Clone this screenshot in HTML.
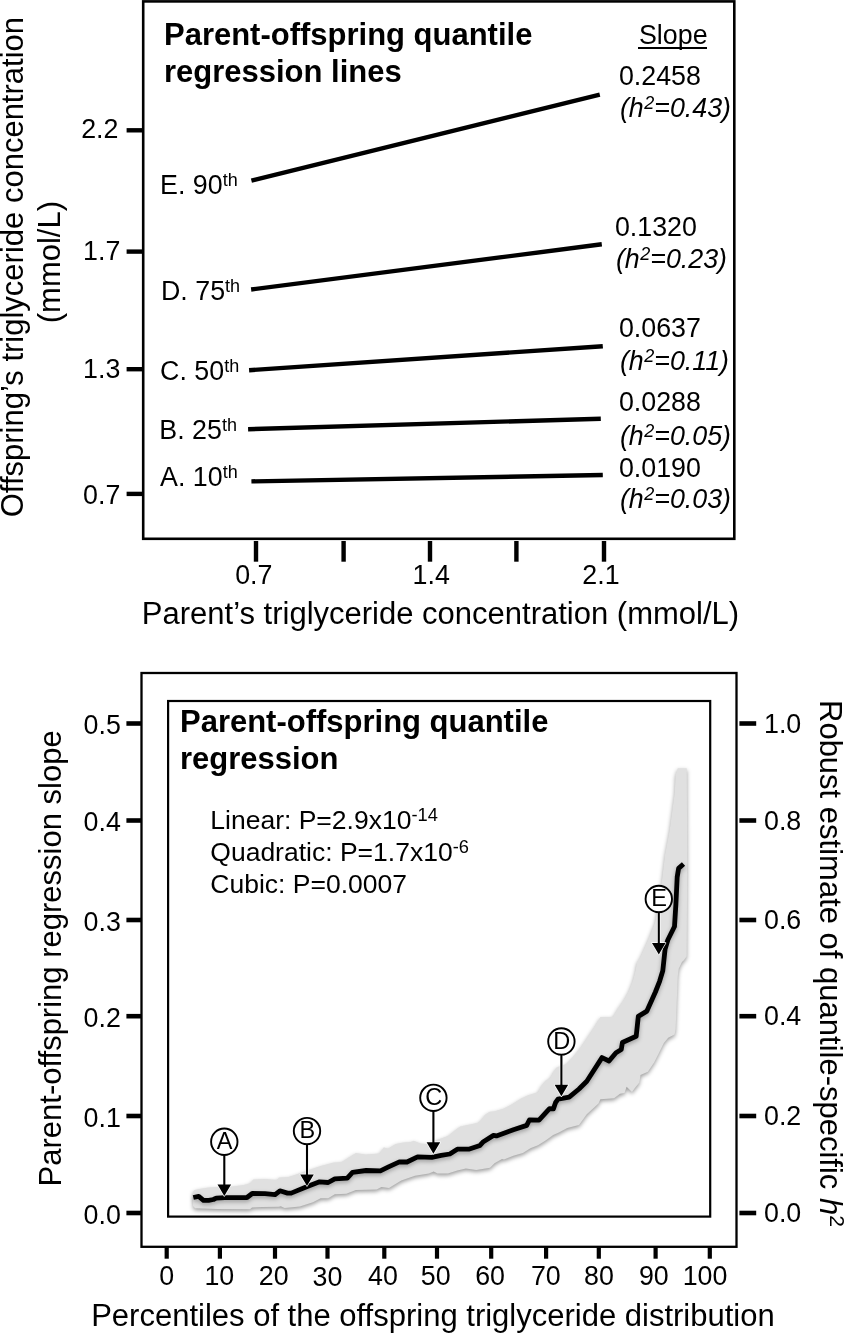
<!DOCTYPE html>
<html><head><meta charset="utf-8"><style>
html,body{margin:0;padding:0;background:#fff;}
svg{display:block;will-change:transform;}
text{font-family:"Liberation Sans", sans-serif;fill:#000;}
</style></head><body>
<svg width="845" height="1334" viewBox="0 0 845 1334">
<rect x="143.2" y="1.4" width="591.1" height="537.4" fill="none" stroke="#000" stroke-width="2.6"/>
<line x1="126.6" y1="130.3" x2="143" y2="130.3" stroke="#000" stroke-width="4.4"/>
<line x1="126.6" y1="251.6" x2="143" y2="251.6" stroke="#000" stroke-width="4.4"/>
<line x1="126.6" y1="369.2" x2="143" y2="369.2" stroke="#000" stroke-width="4.4"/>
<line x1="126.6" y1="493.9" x2="143" y2="493.9" stroke="#000" stroke-width="4.4"/>
<text x="118.4" y="137.7" font-size="26.8" font-weight="normal" font-style="normal" text-anchor="end" >2.2</text>
<text x="120.3" y="259.5" font-size="26.8" font-weight="normal" font-style="normal" text-anchor="end" >1.7</text>
<text x="120.3" y="377.5" font-size="26.8" font-weight="normal" font-style="normal" text-anchor="end" >1.3</text>
<text x="120.3" y="504.2" font-size="26.8" font-weight="normal" font-style="normal" text-anchor="end" >0.7</text>
<line x1="256" y1="541" x2="256" y2="561.7" stroke="#000" stroke-width="4.4"/>
<line x1="343.6" y1="541" x2="343.6" y2="561.7" stroke="#000" stroke-width="4.4"/>
<line x1="430" y1="541" x2="430" y2="561.7" stroke="#000" stroke-width="4.4"/>
<line x1="516.4" y1="541" x2="516.4" y2="561.7" stroke="#000" stroke-width="4.4"/>
<line x1="604" y1="541" x2="604" y2="561.7" stroke="#000" stroke-width="4.4"/>
<text x="253.8" y="584.1" font-size="26.8" font-weight="normal" font-style="normal" text-anchor="middle" >0.7</text>
<text x="431.2" y="584.1" font-size="26.8" font-weight="normal" font-style="normal" text-anchor="middle" >1.4</text>
<text x="601" y="584.1" font-size="26.8" font-weight="normal" font-style="normal" text-anchor="middle" >2.1</text>
<text x="141.8" y="624.1" font-size="31" font-weight="normal" font-style="normal" text-anchor="start" >Parent’s triglyceride concentration (mmol/L)</text>
<text transform="translate(23.2,267.1) rotate(-90)" x="0" y="0" font-size="31" text-anchor="middle">Offspring’s triglyceride concentration</text>
<text transform="translate(60,262.1) rotate(-90)" x="0" y="0" font-size="31" text-anchor="middle">(mmol/L)</text>
<g transform="translate(164,44.5) scale(1,1.04)"><text x="0" y="0" font-size="31" font-weight="bold" font-style="normal" text-anchor="start" >Parent-offspring quantile</text></g>
<g transform="translate(164,81.7) scale(1,1.04)"><text x="0" y="0" font-size="31" font-weight="bold" font-style="normal" text-anchor="start" >regression lines</text></g>
<text x="639" y="44.3" font-size="26.8" font-weight="normal" font-style="normal" text-anchor="start" >Slope</text>
<line x1="638" y1="48.1" x2="707" y2="48.1" stroke="#000" stroke-width="2"/>
<text x="618.9" y="85.2" font-size="26.8" font-weight="normal" font-style="normal" text-anchor="start" >0.2458</text>
<text x="619.9" y="117.1" font-size="26.8" font-style="italic">(h<tspan dx="0.5" dy="-7.8" font-size="18">2</tspan><tspan dy="7.8">=0.43)</tspan></text>
<text x="614.9" y="235.8" font-size="26.8" font-weight="normal" font-style="normal" text-anchor="start" >0.1320</text>
<text x="615.9" y="268.2" font-size="26.8" font-style="italic">(h<tspan dx="0.5" dy="-7.8" font-size="18">2</tspan><tspan dy="7.8">=0.23)</tspan></text>
<text x="618.9" y="336.8" font-size="26.8" font-weight="normal" font-style="normal" text-anchor="start" >0.0637</text>
<text x="619.9" y="370.1" font-size="26.8" font-style="italic">(h<tspan dx="0.5" dy="-7.8" font-size="18">2</tspan><tspan dy="7.8">=0.11)</tspan></text>
<text x="618.9" y="410.6" font-size="26.8" font-weight="normal" font-style="normal" text-anchor="start" >0.0288</text>
<text x="619.9" y="444.6" font-size="26.8" font-style="italic">(h<tspan dx="0.5" dy="-7.8" font-size="18">2</tspan><tspan dy="7.8">=0.05)</tspan></text>
<text x="618.9" y="476.6" font-size="26.8" font-weight="normal" font-style="normal" text-anchor="start" >0.0190</text>
<text x="619.9" y="508.0" font-size="26.8" font-style="italic">(h<tspan dx="0.5" dy="-7.8" font-size="18">2</tspan><tspan dy="7.8">=0.03)</tspan></text>
<line x1="251.4" y1="180.7" x2="599.8" y2="94.6" stroke="#000" stroke-width="4.4"/>
<line x1="251.1" y1="289.5" x2="601.8" y2="244.3" stroke="#000" stroke-width="4.4"/>
<line x1="249.1" y1="370.2" x2="602.8" y2="346.2" stroke="#000" stroke-width="4.4"/>
<line x1="248.1" y1="429.2" x2="600.8" y2="418.7" stroke="#000" stroke-width="4.4"/>
<line x1="251.4" y1="481.4" x2="602.8" y2="475" stroke="#000" stroke-width="4.4"/>
<text x="160.1" y="193.7" font-size="26.8">E. 90<tspan dy="-7.8" font-size="18">th</tspan></text>
<text x="161.0" y="300.1" font-size="26.8">D. 75<tspan dy="-7.8" font-size="18">th</tspan></text>
<text x="160.1" y="379.8" font-size="26.8">C. 50<tspan dy="-7.8" font-size="18">th</tspan></text>
<text x="159.3" y="438.6" font-size="26.8">B. 25<tspan dy="-7.8" font-size="18">th</tspan></text>
<text x="160.1" y="485.5" font-size="26.8">A. 10<tspan dy="-7.8" font-size="18">th</tspan></text>
<rect x="141.5" y="673" width="595" height="573.8" fill="none" stroke="#000" stroke-width="2.3"/>
<rect x="168.1" y="701" width="542.1" height="515.6" fill="none" stroke="#000" stroke-width="2.2"/>
<line x1="126.4" y1="1213" x2="141.5" y2="1213" stroke="#000" stroke-width="4.6"/>
<text x="120.8" y="1223.6" font-size="26.8" font-weight="normal" font-style="normal" text-anchor="end" >0.0</text>
<line x1="739.4" y1="1213" x2="756.2" y2="1213" stroke="#000" stroke-width="4.6"/>
<text x="764" y="1222" font-size="26.8" font-weight="normal" font-style="normal" text-anchor="start" >0.0</text>
<line x1="126.4" y1="1116" x2="141.5" y2="1116" stroke="#000" stroke-width="4.6"/>
<text x="120.8" y="1126.6" font-size="26.8" font-weight="normal" font-style="normal" text-anchor="end" >0.1</text>
<line x1="739.4" y1="1116" x2="756.2" y2="1116" stroke="#000" stroke-width="4.6"/>
<text x="764" y="1125" font-size="26.8" font-weight="normal" font-style="normal" text-anchor="start" >0.2</text>
<line x1="126.4" y1="1016.2" x2="141.5" y2="1016.2" stroke="#000" stroke-width="4.6"/>
<text x="120.8" y="1026.8" font-size="26.8" font-weight="normal" font-style="normal" text-anchor="end" >0.2</text>
<line x1="739.4" y1="1016.2" x2="756.2" y2="1016.2" stroke="#000" stroke-width="4.6"/>
<text x="764" y="1025.2" font-size="26.8" font-weight="normal" font-style="normal" text-anchor="start" >0.4</text>
<line x1="126.4" y1="920" x2="141.5" y2="920" stroke="#000" stroke-width="4.6"/>
<text x="120.8" y="930.6" font-size="26.8" font-weight="normal" font-style="normal" text-anchor="end" >0.3</text>
<line x1="739.4" y1="920" x2="756.2" y2="920" stroke="#000" stroke-width="4.6"/>
<text x="764" y="929" font-size="26.8" font-weight="normal" font-style="normal" text-anchor="start" >0.6</text>
<line x1="126.4" y1="820.5" x2="141.5" y2="820.5" stroke="#000" stroke-width="4.6"/>
<text x="120.8" y="831.1" font-size="26.8" font-weight="normal" font-style="normal" text-anchor="end" >0.4</text>
<line x1="739.4" y1="820.5" x2="756.2" y2="820.5" stroke="#000" stroke-width="4.6"/>
<text x="764" y="829.5" font-size="26.8" font-weight="normal" font-style="normal" text-anchor="start" >0.8</text>
<line x1="126.4" y1="723.5" x2="141.5" y2="723.5" stroke="#000" stroke-width="4.6"/>
<text x="120.8" y="734.1" font-size="26.8" font-weight="normal" font-style="normal" text-anchor="end" >0.5</text>
<line x1="739.4" y1="723.5" x2="756.2" y2="723.5" stroke="#000" stroke-width="4.6"/>
<text x="764" y="732.5" font-size="26.8" font-weight="normal" font-style="normal" text-anchor="start" >1.0</text>
<line x1="166.7" y1="1247.3" x2="166.7" y2="1258.7" stroke="#000" stroke-width="4.2"/>
<text x="166.7" y="1284.5" font-size="26.8" font-weight="normal" font-style="normal" text-anchor="middle" >0</text>
<line x1="219.9" y1="1247.3" x2="219.9" y2="1258.7" stroke="#000" stroke-width="4.2"/>
<text x="219.3" y="1284.5" font-size="26.8" font-weight="normal" font-style="normal" text-anchor="middle" >10</text>
<line x1="275" y1="1247.3" x2="275" y2="1258.7" stroke="#000" stroke-width="4.2"/>
<text x="273.7" y="1284.5" font-size="26.8" font-weight="normal" font-style="normal" text-anchor="middle" >20</text>
<line x1="327.5" y1="1247.3" x2="327.5" y2="1258.7" stroke="#000" stroke-width="4.2"/>
<text x="327.5" y="1285.5" font-size="26.8" font-weight="normal" font-style="normal" text-anchor="middle" >30</text>
<line x1="384.3" y1="1247.3" x2="384.3" y2="1258.7" stroke="#000" stroke-width="4.2"/>
<text x="383" y="1284.5" font-size="26.8" font-weight="normal" font-style="normal" text-anchor="middle" >40</text>
<line x1="437" y1="1247.3" x2="437" y2="1258.7" stroke="#000" stroke-width="4.2"/>
<text x="435.7" y="1284.5" font-size="26.8" font-weight="normal" font-style="normal" text-anchor="middle" >50</text>
<line x1="491.2" y1="1247.3" x2="491.2" y2="1258.7" stroke="#000" stroke-width="4.2"/>
<text x="490.1" y="1284.5" font-size="26.8" font-weight="normal" font-style="normal" text-anchor="middle" >60</text>
<line x1="546.1" y1="1247.3" x2="546.1" y2="1258.7" stroke="#000" stroke-width="4.2"/>
<text x="545.8" y="1284.5" font-size="26.8" font-weight="normal" font-style="normal" text-anchor="middle" >70</text>
<line x1="598.8" y1="1247.3" x2="598.8" y2="1258.7" stroke="#000" stroke-width="4.2"/>
<text x="598.9" y="1284.5" font-size="26.8" font-weight="normal" font-style="normal" text-anchor="middle" >80</text>
<line x1="655.6" y1="1247.3" x2="655.6" y2="1258.7" stroke="#000" stroke-width="4.2"/>
<text x="653.8" y="1284.5" font-size="26.8" font-weight="normal" font-style="normal" text-anchor="middle" >90</text>
<line x1="709.8" y1="1247.3" x2="709.8" y2="1258.7" stroke="#000" stroke-width="4.2"/>
<text x="705" y="1284.5" font-size="26.8" font-weight="normal" font-style="normal" text-anchor="middle" >100</text>
<text x="91.2" y="1326" font-size="31" font-weight="normal" font-style="normal" text-anchor="start" >Percentiles of the offspring triglyceride distribution</text>
<text transform="translate(60.7,958.4) rotate(-90)" x="0" y="0" font-size="31" text-anchor="middle">Parent-offspring regression slope</text>
<text transform="translate(820,700) rotate(90)" x="0" y="0" font-size="31">Robust estimate of quantile-specific <tspan font-style="italic">h</tspan><tspan dy="-9.8" font-size="21">2</tspan></text>
<g transform="translate(180,732) scale(1,1.04)"><text x="0" y="0" font-size="31" font-weight="bold" font-style="normal" text-anchor="start" >Parent-offspring quantile</text></g>
<g transform="translate(180,769.2) scale(1,1.04)"><text x="0" y="0" font-size="31" font-weight="bold" font-style="normal" text-anchor="start" >regression</text></g>
<text x="210.3" y="829" font-size="26.5">Linear: P=2.9x10<tspan dy="-7.9" font-size="18.3">-14</tspan></text>
<text x="210.3" y="861" font-size="26.5">Quadratic: P=1.7x10<tspan dy="-7.9" font-size="18.3">-6</tspan></text>
<text x="210.3" y="892.7" font-size="26.5">Cubic: P=0.0007</text>
<path d="M193,1191.5 L194.5,1190 L199.2,1188.9 L208.7,1187.5 L218.1,1187 L232.3,1186.6 L243.7,1185.1 L250.3,1183.3 L253.2,1179.5 L265,1179 L277,1179.9 L278.9,1177.5 L288.4,1177 L299.8,1173.3 L310.2,1169.5 L321.5,1165.7 L333.8,1162.4 L341.6,1162 L355.8,1153 L365.3,1154.4 L379.5,1153.5 L383.8,1147.3 L388,1148.7 L395.6,1144 L403.2,1142.6 L410.7,1142.1 L413.8,1140.7 L420.4,1143.6 L426.1,1144 L434.6,1140.7 L447.9,1136 L457.3,1128.4 L460.2,1126.5 L478.2,1122.7 L482,1118.9 L484.8,1115.1 L489.5,1111.8 L494.5,1111.2 L503.9,1108.4 L511.5,1104.6 L521,1098.5 L528.6,1095.1 L538,1092.2 L540.9,1086.5 L545.6,1080.4 L547.5,1079.4 L550.4,1077.5 L553.2,1072.3 L556.5,1067.6 L559.3,1066.6 L566,1064.3 L574.1,1055.8 L580.9,1047 L588.7,1035.3 L594.6,1026.6 L600.4,1017 L612.8,1017 L618.1,1007.9 L623.4,1000.5 L628.8,990.9 L633,980.2 L635.5,970.5 L637,962 L639.9,958 L648,940 L655.2,922 L659.7,895 L662.4,877 L665,855 L669.8,829.6 L673.1,804.7 L674.8,792.3 L675.6,774.9 L677.7,768.3 L686.8,768.3 L687.2,860 L686.7,956.2 L684.1,960 L682,962.1 L678.8,968.5 L677.8,976 L676.7,1002.6 L675.6,1029.2 L674.6,1034.6 L668.2,1037.8 L663.9,1043.1 L658.6,1053.7 L654.3,1062.2 L647.9,1071.8 L640.5,1075 L639.4,1082.5 L635.1,1087.8 L632,1092.1 L626.6,1086.7 L624.5,1093.1 L620,1093.8 L614.1,1098.2 L600.4,1099.2 L598.5,1103.6 L586.8,1114.3 L579,1125 L567.3,1127.9 L558.9,1132.5 L553.2,1134.9 L545.6,1140.6 L538,1145.3 L530.4,1148.2 L522.9,1152.9 L513.4,1155.7 L504,1159.5 L502,1159.1 L494.5,1163.3 L490,1167.7 L476.3,1170 L465.9,1168.6 L457.3,1170.5 L447.9,1173.4 L437.5,1173.4 L433.7,1171.5 L428.9,1173.4 L415,1175.7 L401.3,1180.4 L389,1188 L381.4,1187.1 L376.7,1189.4 L355.8,1189.9 L346.4,1193.7 L334.8,1194.2 L328.2,1198.3 L320.6,1198.3 L313,1202.2 L299.8,1206.4 L284.6,1207.9 L280.8,1206.3 L278.9,1206.7 L262,1207 L252,1207.5 L250,1209.2 L218,1209 L195,1208.3 L193,1206 Z" fill="#e0e0e0" style="filter:drop-shadow(0px 2px 2px rgba(0,0,0,0.4))"/>
<path d="M193.3,1197.5 L198.7,1196.3 L203.5,1200.3 L208.7,1200.3 L213.4,1199.5 L216.2,1198.1 L224.8,1197.6 L247,1197.5 L252.2,1193.5 L265,1193.7 L275.1,1194.6 L279.9,1190.8 L287.5,1193.1 L291.2,1193.1 L307.3,1186.5 L319.6,1181.8 L328.2,1182.5 L334.8,1178.9 L347.3,1178.1 L352.5,1172.4 L366.2,1170.5 L380.4,1170.8 L388,1167.2 L399.4,1161.8 L407,1162 L417.6,1156.8 L431.8,1157.3 L441.2,1155.4 L449.8,1154 L457.3,1149.2 L468.7,1149.2 L480,1145.4 L483.4,1141.7 L493.5,1135.4 L496.4,1135.9 L513.4,1129.7 L526.7,1125.4 L529.5,1119.8 L539,1120.2 L549.5,1108.6 L553.4,1108.9 L555.6,1102.5 L558,1099.2 L569.2,1097.2 L579,1089 L586.8,1081.2 L602,1057.6 L609,1061 L616,1052.7 L621.3,1049.5 L622.4,1042.5 L636.2,1036.2 L638.3,1016.4 L646.9,1011.1 L655.4,992 L659.6,981.3 L662.8,970.7 L665.1,949 L667.8,940 L674.5,926.5 L675.9,904 L677.2,877 L678.6,868.4 L683.5,864" fill="none" stroke="#000" stroke-width="4.8" stroke-linejoin="round" style="filter:drop-shadow(0px 2.5px 2px rgba(0,0,0,0.3))"/>
<circle cx="224.3" cy="1141.75" r="13.2" fill="#fff" stroke="#000" stroke-width="1.9"/>
<text x="224.70000000000002" y="1148.95" font-size="23.5" font-weight="normal" font-style="normal" text-anchor="middle" >A</text>
<line x1="224.3" y1="1155.95" x2="224.3" y2="1186" stroke="#fff" stroke-width="3.4"/>
<path d="M217.5,1184.5 L231.10000000000002,1184.5 L224.3,1196 Z" fill="#fff" stroke="#fff" stroke-width="1.4" stroke-linejoin="round"/>
<line x1="224.3" y1="1154.95" x2="224.3" y2="1186" stroke="#000" stroke-width="2.1"/>
<path d="M217.5,1184.5 L231.10000000000002,1184.5 L224.3,1196 Z" fill="#000"/>
<circle cx="307" cy="1131.1" r="13.2" fill="#fff" stroke="#000" stroke-width="1.9"/>
<text x="307.4" y="1138.3" font-size="23.5" font-weight="normal" font-style="normal" text-anchor="middle" >B</text>
<line x1="307" y1="1145.3" x2="307" y2="1176" stroke="#fff" stroke-width="3.4"/>
<path d="M300.2,1174.5 L313.8,1174.5 L307,1186 Z" fill="#fff" stroke="#fff" stroke-width="1.4" stroke-linejoin="round"/>
<line x1="307" y1="1144.3" x2="307" y2="1176" stroke="#000" stroke-width="2.1"/>
<path d="M300.2,1174.5 L313.8,1174.5 L307,1186 Z" fill="#000"/>
<circle cx="433.4" cy="1097.8" r="13.2" fill="#fff" stroke="#000" stroke-width="1.9"/>
<text x="433.79999999999995" y="1105.0" font-size="23.5" font-weight="normal" font-style="normal" text-anchor="middle" >C</text>
<line x1="433.4" y1="1112.0" x2="433.4" y2="1143.8" stroke="#fff" stroke-width="3.4"/>
<path d="M426.59999999999997,1142.3 L440.2,1142.3 L433.4,1153.8 Z" fill="#fff" stroke="#fff" stroke-width="1.4" stroke-linejoin="round"/>
<line x1="433.4" y1="1111.0" x2="433.4" y2="1143.8" stroke="#000" stroke-width="2.1"/>
<path d="M426.59999999999997,1142.3 L440.2,1142.3 L433.4,1153.8 Z" fill="#000"/>
<circle cx="561.4" cy="1041.5" r="13.2" fill="#fff" stroke="#000" stroke-width="1.9"/>
<text x="561.8" y="1048.7" font-size="23.5" font-weight="normal" font-style="normal" text-anchor="middle" >D</text>
<line x1="561.4" y1="1055.7" x2="561.4" y2="1086.3" stroke="#fff" stroke-width="3.4"/>
<path d="M554.6,1084.8 L568.1999999999999,1084.8 L561.4,1096.3 Z" fill="#fff" stroke="#fff" stroke-width="1.4" stroke-linejoin="round"/>
<line x1="561.4" y1="1054.7" x2="561.4" y2="1086.3" stroke="#000" stroke-width="2.1"/>
<path d="M554.6,1084.8 L568.1999999999999,1084.8 L561.4,1096.3 Z" fill="#000"/>
<circle cx="658.8" cy="899" r="13.2" fill="#fff" stroke="#000" stroke-width="1.9"/>
<text x="659.1999999999999" y="906.2" font-size="23.5" font-weight="normal" font-style="normal" text-anchor="middle" >E</text>
<line x1="658.8" y1="913.2" x2="658.8" y2="944.4" stroke="#fff" stroke-width="3.4"/>
<path d="M652.0,942.9 L665.5999999999999,942.9 L658.8,954.4 Z" fill="#fff" stroke="#fff" stroke-width="1.4" stroke-linejoin="round"/>
<line x1="658.8" y1="912.2" x2="658.8" y2="944.4" stroke="#000" stroke-width="2.1"/>
<path d="M652.0,942.9 L665.5999999999999,942.9 L658.8,954.4 Z" fill="#000"/>
</svg>
</body></html>
